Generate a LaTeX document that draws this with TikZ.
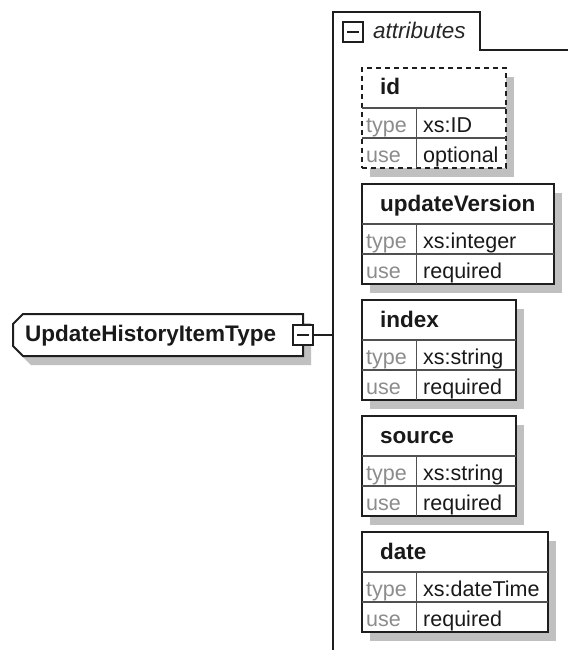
\documentclass[tikz,border=0pt]{standalone}
\usepackage{fontspec}
\setmainfont{Liberation Sans}
\usetikzlibrary{positioning,shadows}
\definecolor{frame}{HTML}{1E1E1E}
\definecolor{grid}{HTML}{505050}
\definecolor{keygray}{HTML}{8C8C8C}
\definecolor{shade}{HTML}{C0C0C0}

\tikzset{
  boxshadow/.style={drop shadow={shadow xshift=8pt, shadow yshift=-9pt, opacity=1, fill=shade}},
  attrbox/.style={draw=frame, line width=2pt, fill=white, minimum height=100pt, inner sep=0pt, outer sep=0pt, boxshadow},
  optborder/.style={dash pattern=on 5pt off 4pt},
  reqborder/.style={solid},
  typeframe/.style={draw=frame, line width=2pt, fill=white, line join=miter, boxshadow},
  toggle/.style={draw=frame, line width=2pt, fill=white, minimum size=20pt, inner sep=0pt, outer sep=0pt},
  rowline/.style={draw=grid, line width=1.4pt},
  tabline/.style={draw=frame, line width=2pt},
  headtext/.style={font=\fontsize{22.5}{27}\selectfont\bfseries, text=black!90, inner sep=0pt},
  tabtext/.style={font=\fontsize{22.5}{27}\selectfont\itshape, text=black!85, inner sep=0pt},
  keytext/.style={font=\fontsize{21.5}{26}\selectfont, text=keygray, inner sep=0pt},
  valtext/.style={font=\fontsize{21.5}{26}\selectfont, text=black!90, inner sep=0pt},
}

\begin{document}
\begin{tikzpicture}[x=1pt, y=-1pt]
  \useasboundingbox (0,0) rectangle (568,650);

  % complex type, cut at the two left corners
  \node[minimum width=290pt, minimum height=42pt, inner sep=0pt, outer sep=0pt] (ptype) at (158,335) {};
  \draw[typeframe] (ptype.north east) -- (ptype.south east)
    -- ([xshift=10pt]ptype.south west) -- ([yshift=10pt]ptype.south west)
    -- ([yshift=-10pt]ptype.north west) -- ([xshift=10pt]ptype.north west) -- cycle;
  \node[headtext, anchor=base west] (ptype-title) at ([xshift=12pt,yshift=-6pt]ptype.west) {UpdateHistoryItemType};
  \node[toggle] (ptype-toggle) at (ptype.east) {};
  \draw[tabline] ([xshift=4pt]ptype-toggle.west) -- ([xshift=-4pt]ptype-toggle.east);

  % attributes group
  \coordinate (attr-rail) at (333,12);
  \draw[tabline] (333,650) |- (480,12) |- (568,50);
  \node[toggle] (attr-toggle) at (353,32) {};
  \draw[tabline] ([xshift=4pt]attr-toggle.west) -- ([xshift=-4pt]attr-toggle.east);
  \node[tabtext, anchor=base west] (attr-title) at ([xshift=10pt,yshift=-7pt]attr-toggle.east) {attributes};
  \draw[tabline] (ptype-toggle.east) -- (ptype-toggle.east -| attr-rail);

  \foreach \nm/\bw/\typ/\usage/\brd [count=\i from 0] in {
      id/144/xs:ID/optional/optborder,
      updateVersion/192/xs:integer/required/reqborder,
      index/154/xs:string/required/reqborder,
      source/154/xs:string/required/reqborder,
      date/186/xs:dateTime/required/reqborder}{
    \node[attrbox, \brd, minimum width=\bw pt, anchor=north west] (\nm) at (362,68+116*\i) {};
    \draw[rowline] ([yshift=-40pt]\nm.north west) -- ([yshift=-40pt]\nm.north east);
    \draw[rowline] ([yshift=-70pt]\nm.north west) -- ([yshift=-70pt]\nm.north east);
    \draw[rowline] ([xshift=54.5pt,yshift=-40pt]\nm.north west) -- ([xshift=54.5pt]\nm.south west);
    \node[headtext, anchor=base west] (\nm-title) at ([xshift=18pt,yshift=-27pt]\nm.north west) {\nm};
    \node[keytext, anchor=base west] (\nm-tkey) at ([xshift=4pt,yshift=-64pt]\nm.north west) {type};
    \node[valtext, anchor=base west] (\nm-tval) at ([xshift=61pt,yshift=-64pt]\nm.north west) {\typ};
    \node[keytext, anchor=base west] (\nm-ukey) at ([xshift=4pt,yshift=-94pt]\nm.north west) {use};
    \node[valtext, anchor=base west] (\nm-uval) at ([xshift=61pt,yshift=-94pt]\nm.north west) {\usage};
  }
\end{tikzpicture}
\end{document}
